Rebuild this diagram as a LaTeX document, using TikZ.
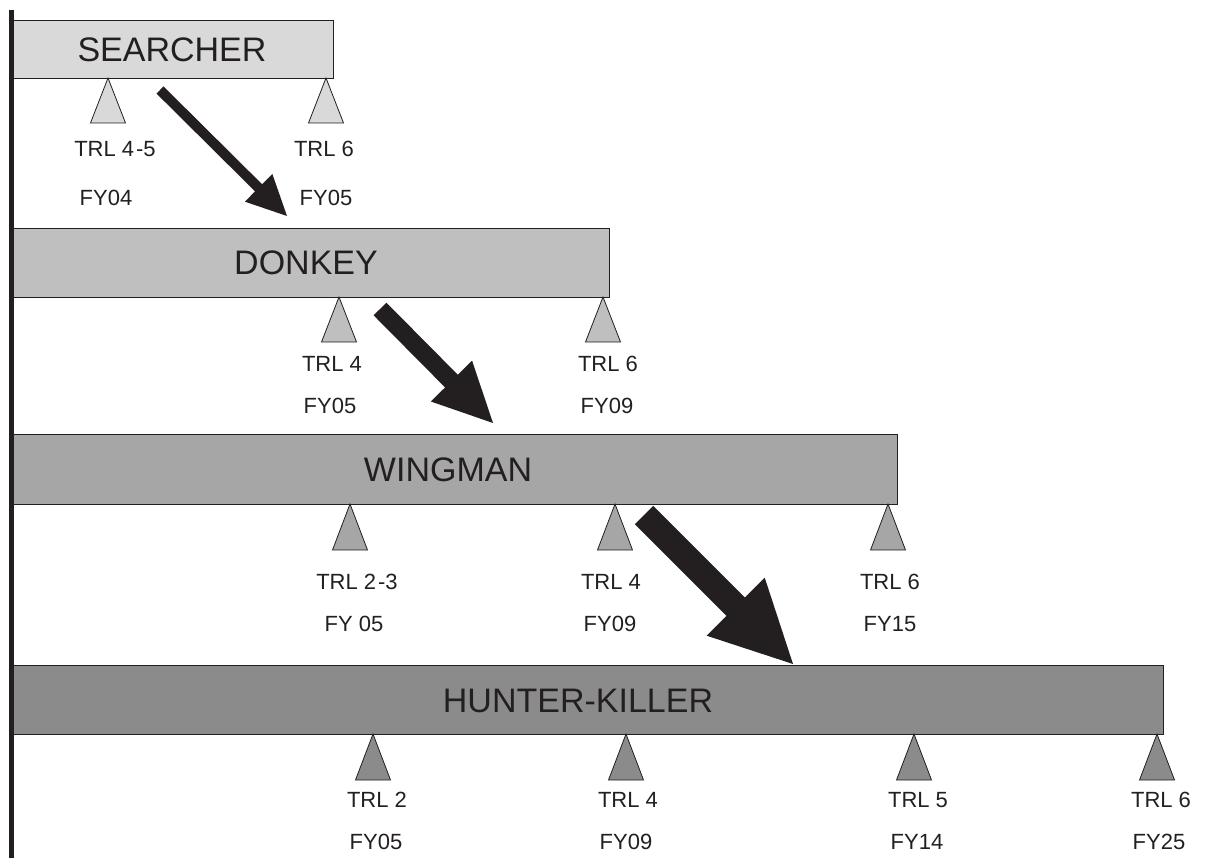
\documentclass[tikz,border=0pt]{standalone}
\usepackage{fontspec}
\setmainfont{Liberation Sans}
\usetikzlibrary{calc}

\definecolor{ink}{HTML}{231F20}
\definecolor{shadeA}{HTML}{D9D9D9}
\definecolor{shadeB}{HTML}{BFBFBF}
\definecolor{shadeC}{HTML}{A6A6A6}
\definecolor{shadeD}{HTML}{8B8B8B}

% block arrow: tail, tip, shaft half width, head half width, head length
\newcommand\blockarrowdraw[5]{%
  \coordinate (#1-base) at ($(#2)!#5!(#1)$);
  \fill[ink] ($(#1)!#3!90:(#2)$) -- ($(#1-base)!#3!90:(#2)$)
    -- ($(#1-base)!#4!90:(#2)$) -- (#2)
    -- ($(#1-base)!#4!-90:(#2)$) -- ($(#1-base)!#3!-90:(#2)$)
    -- ($(#1)!#3!-90:(#2)$) -- cycle;
}

\begin{document}
\begin{tikzpicture}[x=1pt,y=-1pt,
  box/.style={draw=ink, line width=1pt, inner sep=0pt, anchor=north west},
  marker/.style={draw=ink, line width=0.8pt, line join=miter},
  title/.style={font=\fontsize{34}{40}\selectfont, text=ink, inner sep=0pt},
  tag/.style={font=\fontsize{22}{26}\selectfont, text=ink, inner sep=0pt}]

\useasboundingbox (0,0) rectangle (1228,858);

% programme bars
\node[box, fill=shadeA, minimum width=321pt, minimum height=58pt] (searcher) at (12,20) {};
\node[box, fill=shadeB, minimum width=597pt, minimum height=69pt] (donkey) at (12,228) {};
\node[box, fill=shadeC, minimum width=885pt, minimum height=70pt] (wingman) at (12,434) {};
\node[box, fill=shadeD, minimum width=1151pt, minimum height=69pt] (hunter) at (12,665) {};

\node[title] (searcher-t) at (172,50) {SEARCHER};
\node[title] (donkey-t) at (306,263) {DONKEY};
\node[title] (wingman-t) at (448,470) {WINGMAN};
\node[title] (hunter-t) at (578,701) {HUNTER-KILLER};

% milestone markers: apex x / label x / TRL / FY
\foreach \tx/\lx/\fx/\trl/\fy [count=\i] in {108/115/106/TRL 4\kern2pt-5/FY04, 326/324/326/TRL 6/FY05}{
  \draw[marker, fill=shadeA] (\tx,78) -- ++(-17.5,45) -- ++(35,0) -- cycle;
  \node[tag] (s-trl-\i) at (\lx,149) {\trl};
  \node[tag] (s-fy-\i) at (\fx,198) {\fy};
}
\foreach \tx/\lx/\fx/\trl/\fy [count=\i] in {339/332/330/TRL 4/FY05, 603/608/607/TRL 6/FY09}{
  \draw[marker, fill=shadeB] (\tx,297) -- ++(-17.5,45) -- ++(35,0) -- cycle;
  \node[tag] (d-trl-\i) at (\lx,364) {\trl};
  \node[tag] (d-fy-\i) at (\fx,406) {\fy};
}
\foreach \tx/\lx/\fx/\trl/\fy [count=\i] in {350/357/354/TRL 2\kern2pt-3/FY 05, 615/611/610/TRL 4/FY09, 888/890/890/TRL 6/FY15}{
  \draw[marker, fill=shadeC] (\tx,504) -- ++(-17.5,46) -- ++(35,0) -- cycle;
  \node[tag] (w-trl-\i) at (\lx,582) {\trl};
  \node[tag] (w-fy-\i) at (\fx,624) {\fy};
}
\foreach \tx/\lx/\fx/\trl/\fy [count=\i] in {373/377/376/TRL 2/FY05, 626/628/626/TRL 4/FY09, 914/918/917/TRL 5/FY14, 1157/1161/1159/TRL 6/FY25}{
  \draw[marker, fill=shadeD] (\tx,734) -- ++(-17.5,46) -- ++(35,0) -- cycle;
  \node[tag] (h-trl-\i) at (\lx,800) {\trl};
  \node[tag] (h-fy-\i) at (\fx,842) {\fy};
}

% transition arrows
\coordinate (a1) at (160,90);  \coordinate (a1-tip) at (287,216);
\coordinate (a2) at (380,309); \coordinate (a2-tip) at (493,423);
\coordinate (a3) at (644,515); \coordinate (a3-tip) at (793,664);
\blockarrowdraw{a1}{a1-tip}{5pt}{19.5pt}{40pt}
\blockarrowdraw{a2}{a2-tip}{9pt}{29pt}{59pt}
\blockarrowdraw{a3}{a3-tip}{13pt}{41pt}{81pt}

% time axis
\coordinate (axis-top) at (11,10);
\coordinate (axis-bottom) at (11,858);
\draw[ink, line width=5pt] (axis-top) -- (axis-bottom);
\end{tikzpicture}
\end{document}
